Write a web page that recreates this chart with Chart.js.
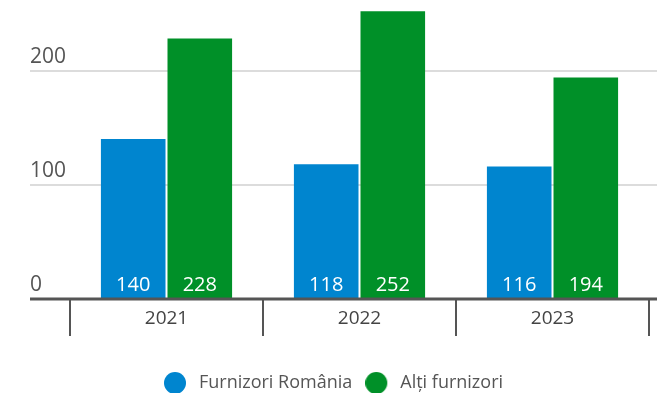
<!DOCTYPE html>
<html>
<head>
<meta charset="utf-8">
<script src="https://cdn.jsdelivr.net/npm/chart.js@4"></script>
<style>
  html, body { margin: 0; padding: 0; background: #fff; }
  #wrap { width: 657px; height: 393px; }
</style>
</head>
<body>
<div id="wrap"><canvas id="chart"></canvas></div>
<script>
// Date
const ani = ['2021', '2022', '2023'];
const furnizoriRomania = [140, 118, 116];
const altiFurnizori = [228, 252, 194];
const yTicks = [0, 100, 200];

const FONT = "'Open Sans', 'Noto Sans', sans-serif";
const BLUE = '#0085cf';
const GREEN = '#009028';

// cerc pentru legenda, cu spatiu liber in dreapta
function legendDot(color) {
  const c = document.createElement('canvas');
  c.width = 34;
  c.height = 22;
  const g = c.getContext('2d');
  g.fillStyle = color;
  g.beginPath();
  g.arc(11, 11, 11, 0, Math.PI * 2);
  g.fill();
  return c;
}

// linii orizontale, etichete pe axe si valori in bare
const customDraw = {
  id: 'customDraw',
  beforeDatasetsDraw(chart) {
    const { ctx, scales: { y } } = chart;
    ctx.save();
    yTicks.forEach(v => {
      if (v === 0) return;
      const py = Math.round(y.getPixelForValue(v));
      ctx.strokeStyle = '#dcdcdc';
      ctx.lineWidth = 2;
      ctx.beginPath();
      ctx.moveTo(30, py);
      ctx.lineTo(657, py);
      ctx.stroke();
    });
    ctx.restore();
  },
  afterDatasetsDraw(chart) {
    const { ctx, scales: { x, y } } = chart;
    ctx.save();
    // linia de baza
    const py0 = y.getPixelForValue(0);
    ctx.strokeStyle = '#555';
    ctx.lineWidth = 3;
    ctx.beginPath();
    ctx.moveTo(30, py0);
    ctx.lineTo(657, py0);
    ctx.stroke();

    ctx.font = '21px ' + FONT;
    ctx.fillStyle = '#555';
    ctx.textAlign = 'left';
    ctx.textBaseline = 'middle';
    yTicks.forEach(v => {
      ctx.fillText(String(v), 30, y.getPixelForValue(v) - 14);
    });

    // anii sub axa
    ctx.fillStyle = '#444';
    ctx.textAlign = 'center';
    ctx.font = '19px ' + FONT;
    ani.forEach((a, i) => {
      ctx.fillText(a, x.getPixelForTick(i), py0 + 20);
    });

    ctx.font = '20px ' + FONT;
    ctx.fillStyle = '#fff';
    chart.data.datasets.forEach((ds, i) => {
      chart.getDatasetMeta(i).data.forEach((bar, j) => {
        ctx.fillText(String(ds.data[j]), bar.x, py0 - 14);
      });
    });
    ctx.restore();
  }
};

new Chart(document.getElementById('chart'), {
  type: 'bar',
  data: {
    labels: ani,
    datasets: [
      {
        label: 'Furnizori România',
        data: furnizoriRomania,
        backgroundColor: BLUE,
        pointStyle: legendDot(BLUE)
      },
      {
        label: 'Alți furnizori',
        data: altiFurnizori,
        backgroundColor: GREEN,
        pointStyle: legendDot(GREEN)
      }
    ]
  },
  options: {
    responsive: true,
    maintainAspectRatio: false,
    animation: false,
    categoryPercentage: 0.69,
    barPercentage: 0.97,
    layout: { padding: { left: 26, right: 8, top: 2, bottom: -9 } },
    plugins: {
      tooltip: { enabled: false },
      legend: {
        position: 'bottom',
        labels: {
          usePointStyle: true,
          boxWidth: 18,
          boxHeight: 18,
          padding: 21,
          color: '#555',
          font: { family: FONT, size: 18 }
        }
      }
    },
    scales: {
      x: {
        grid: {
          offset: true,
          drawOnChartArea: false,
          drawTicks: true,
          tickLength: 37,
          color: '#555',
          lineWidth: 2
        },
        border: { display: false },
        ticks: { display: false },
        afterFit(scale) { scale.height += 17; }
      },
      y: {
        min: 0,
        max: 260,
        grid: { display: false },
        border: { display: false },
        ticks: { display: false },
        afterFit(scale) { scale.width = 44; }
      }
    }
  },
  plugins: [customDraw]
});
</script>
</body>
</html>
